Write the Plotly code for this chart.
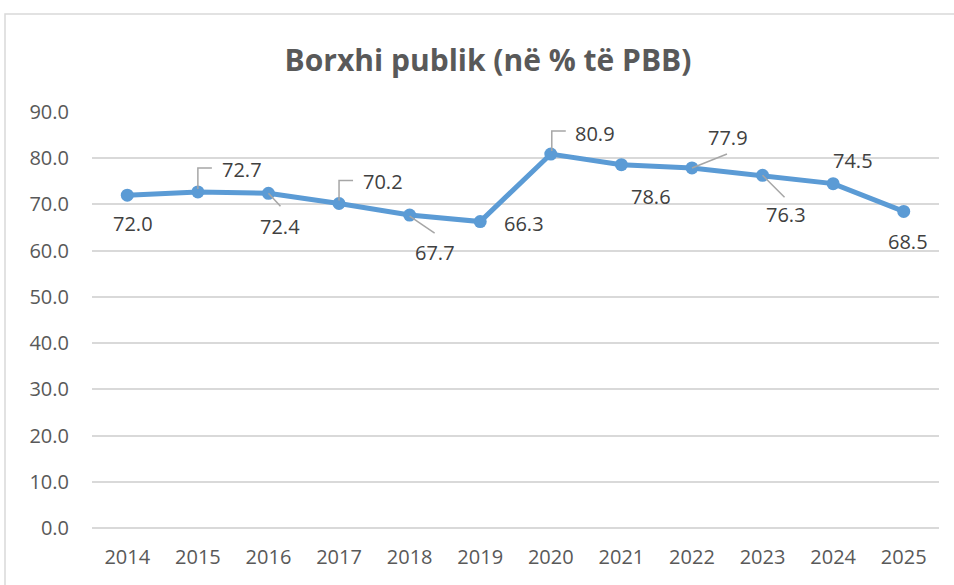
import plotly.graph_objects as go

years = [2014, 2015, 2016, 2017, 2018, 2019, 2020, 2021, 2022, 2023, 2024, 2025]
debt = [72.0, 72.7, 72.4, 70.2, 67.7, 66.3, 80.9, 78.6, 77.9, 76.3, 74.5, 68.5]
y_ticks = [0, 10, 20, 30, 40, 50, 60, 70, 80, 90]
title_text = "Borxhi publik (në % të PBB)"

# label placement (pixel offsets from point: dx right, dy up) and leader path (pixels)
label_offsets = {
    2014: (6, -28, None),
    2015: (44, 22, "M 0 3 L 0 24 L 14 24"),
    2016: (12, -33, "M 0 0 L 12 -13"),
    2017: (44, 22, "M 0 3 L 0 23 L 14 23"),
    2018: (25, -37, "M 0 -1 L 25 -18"),
    2019: (44, -2, None),
    2020: (44, 21, "M 1 3 L 1 23 L 15 23"),
    2021: (30, -32, None),
    2022: (36, 30, "M 0 0 L 35 14"),
    2023: (23, -39, "M 0 0 L 22 -22"),
    2024: (20, 23, None),
    2025: (4, -30, None),
}

LINE = "#5B9BD5"
LEADER = "#A6A6A6"
TXT = "#404040"
TICK = "#595959"
GRID = "#D9D9D9"
FONT = "Open Sans"

fig = go.Figure()
fig.add_trace(go.Scatter(
    x=years, y=debt, mode="lines+markers",
    line=dict(color=LINE, width=5),
    marker=dict(color=LINE, size=13),
    hoverinfo="skip", showlegend=False,
))

annotations = []
shapes = []
for yr, val in zip(years, debt):
    dx, dy, leader = label_offsets[yr]
    annotations.append(dict(
        x=yr, y=val, xref="x", yref="y", text=f"{val:.1f}",
        showarrow=False, xshift=dx, yshift=dy,
        font=dict(family=FONT, size=20, color=TXT),
    ))
    if leader:
        shapes.append(dict(
            type="path", xref="x", yref="y", xsizemode="pixel", ysizemode="pixel",
            xanchor=yr, yanchor=val, path=leader,
            line=dict(color=LEADER, width=1.5),
        ))

# chart-area border
shapes.append(dict(
    type="rect", xref="paper", yref="paper",
    x0=(5 - 92) / 847, x1=1.1, y0=-0.2, y1=(528 - 14) / 416,
    line=dict(color=GRID, width=1.5), fillcolor="rgba(0,0,0,0)", layer="below",
))

fig.update_layout(
    width=954, height=585,
    margin=dict(l=92, r=15, t=112, b=57),
    paper_bgcolor="white", plot_bgcolor="white",
    title=dict(
        text=f"<b>{title_text}</b>", x=488 / 954, xref="container", xanchor="center",
        y=1 - 60 / 585, yref="container", yanchor="middle",
        font=dict(family=FONT, size=30, color=TICK),
    ),
    xaxis=dict(
        range=[2013.5, 2025.5], tickmode="array", tickvals=years,
        ticktext=[str(y) for y in years], showgrid=False, zeroline=False,
        showline=False, ticks="", ticklabelstandoff=15,
        tickfont=dict(family=FONT, size=20, color=TICK),
    ),
    yaxis=dict(
        range=[0, 90], tickmode="array", tickvals=y_ticks,
        ticktext=[f"{v:.1f}" for v in y_ticks], showgrid=True, gridcolor=GRID,
        gridwidth=1.5, zeroline=True, zerolinecolor=GRID, zerolinewidth=1.5,
        showline=False, ticks="", ticklabelstandoff=22,
        tickfont=dict(family=FONT, size=20, color=TICK),
    ),
    annotations=annotations, shapes=shapes,
)

fig.write_html("out.html", config={"displayModeBar": False},
               post_script="document.body.style.margin='0';")
